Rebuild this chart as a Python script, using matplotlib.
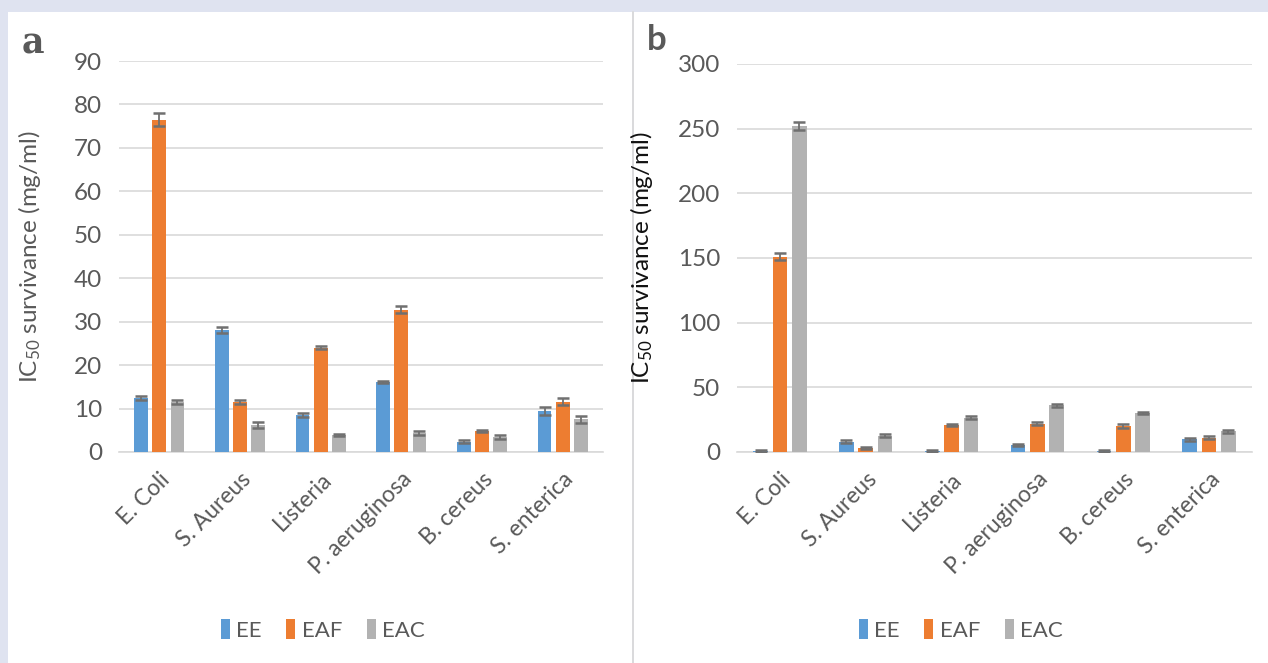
import numpy as np
import matplotlib.pyplot as plt
from matplotlib.patches import Patch, Rectangle
from matplotlib.lines import Line2D

plt.rcParams['font.family'] = ['Lato', 'DejaVu Sans']
plt.rcParams['mathtext.fontset'] = 'custom'
plt.rcParams['mathtext.rm'] = 'Lato'
plt.rcParams['mathtext.it'] = 'Lato'

# data
bacteria = ['E. Coli', 'S. Aureus', 'Listeria', 'P. aeruginosa', 'B. cereus', 'S. enterica']
series = ['EE', 'EAF', 'EAC']
colors = ['#5b9bd5', '#ed7d31', '#b2b2b2']

# panel a
a_ee = [12.4, 28.0, 8.5, 16.1, 2.4, 9.5]
a_eaf = [76.5, 11.5, 24.0, 32.8, 4.8, 11.6]
a_eac = [11.5, 6.3, 3.9, 4.3, 3.4, 7.5]
a_ee_err = [0.5, 0.7, 0.5, 0.3, 0.4, 0.9]
a_eaf_err = [1.5, 0.5, 0.4, 0.8, 0.2, 0.8]
a_eac_err = [0.5, 0.7, 0.3, 0.5, 0.5, 0.9]

# panel b
b_ee = [1.0, 8.0, 0.8, 5.5, 1.0, 10.0]
b_eaf = [151.0, 3.0, 21.0, 22.0, 20.0, 11.0]
b_eac = [252.0, 12.5, 26.5, 36.0, 30.0, 16.0]
b_ee_err = [0.8, 1.0, 0.8, 0.8, 0.8, 1.2]
b_eaf_err = [2.5, 0.8, 1.0, 1.2, 1.8, 1.0]
b_eac_err = [3.0, 1.2, 1.0, 1.2, 0.8, 1.2]

fig = plt.figure(figsize=(12.68, 6.63), dpi=100)
fig.patch.set_facecolor('#dfe3f0')

# white panels
fig.patches.append(Rectangle((8/1268, 0), (632-8)/1268, 1-12/663, transform=fig.transFigure,
                             facecolor='white', edgecolor='none', zorder=-5))
fig.patches.append(Rectangle((634/1268, 0), (1268-634)/1268, 1-12/663, transform=fig.transFigure,
                             facecolor='white', edgecolor='none', zorder=-5))
fig.lines.append(Line2D([632.5/1268, 632.5/1268], [0, 1-12/663], transform=fig.transFigure,
                        color='#d9d9d9', lw=1.2, zorder=-4))

txt = '#595959'


def draw(ax, vals, errs, ymax, step, ylab_color):
    x = np.arange(len(bacteria))
    w = 0.17
    off = 0.225
    for i, (v, e) in enumerate(zip(vals, errs)):
        ax.bar(x + (i - 1) * off, v, width=w, color=colors[i], zorder=3)
        ax.errorbar(x + (i - 1) * off, v, yerr=e, fmt='none', ecolor='#707070',
                    elinewidth=1.3, capsize=4.5, capthick=1.8, zorder=4)
    ax.set_xlim(-0.5, len(bacteria) - 0.5)
    ax.set_ylim(0, ymax)
    ax.set_yticks(np.arange(0, ymax + 1, step))
    ax.yaxis.grid(True, color='#d9d9d9', lw=1.2, zorder=0)
    ax.set_axisbelow(True)
    for s in ['top', 'right', 'left']:
        ax.spines[s].set_visible(False)
    ax.spines['bottom'].set_color('#d9d9d9')
    ax.spines['bottom'].set_linewidth(1.2)
    ax.tick_params(axis='both', length=0, labelsize=17.5, colors=txt, pad=12)
    ax.set_xticks(x)
    ax.set_xticklabels(bacteria, rotation=45, ha='right', rotation_mode='anchor', fontsize=16.5)
    ax.tick_params(axis='x', pad=12)
    ax.set_facecolor('none')
    ax.set_ylabel(r'IC$_{50}$ survivance (mg/ml)', fontsize=17.5, color=ylab_color)


ax1 = fig.add_axes([119/1268, 1-452/663, (603-119)/1268, (452-61)/663])
draw(ax1, [a_ee, a_eaf, a_eac], [a_ee_err, a_eaf_err, a_eac_err], 90, 10, txt)
ax1.yaxis.set_label_coords(-0.157, 0.5)

ax2 = fig.add_axes([737/1268, 1-452/663, (1252-737)/1268, (452-64)/663])
draw(ax2, [b_ee, b_eaf, b_eac], [b_ee_err, b_eaf_err, b_eac_err], 300, 50, '#111111')
ax2.yaxis.set_label_coords(-0.159, 0.5)

fig.text(33/1268, 1-43/663, 'a', fontsize=25, fontweight='bold', family='DejaVu Serif',
         color=txt, ha='center', va='center')
fig.text(657/1268, 1-40/663, 'b', fontsize=25, fontweight='bold', color=txt,
         ha='center', va='center')

handles = [Patch(facecolor=c, edgecolor='none') for c in colors]
for cx in [323/1268, 961/1268]:
    fig.legend(handles, series, loc='center', bbox_to_anchor=(cx, 1-630/663), ncol=3,
               frameon=False, fontsize=16, labelcolor=txt, handlelength=0.4,
               handleheight=1.0, handletextpad=0.3, columnspacing=1.1)

fig.savefig('out.png', dpi=100, facecolor=fig.get_facecolor())
